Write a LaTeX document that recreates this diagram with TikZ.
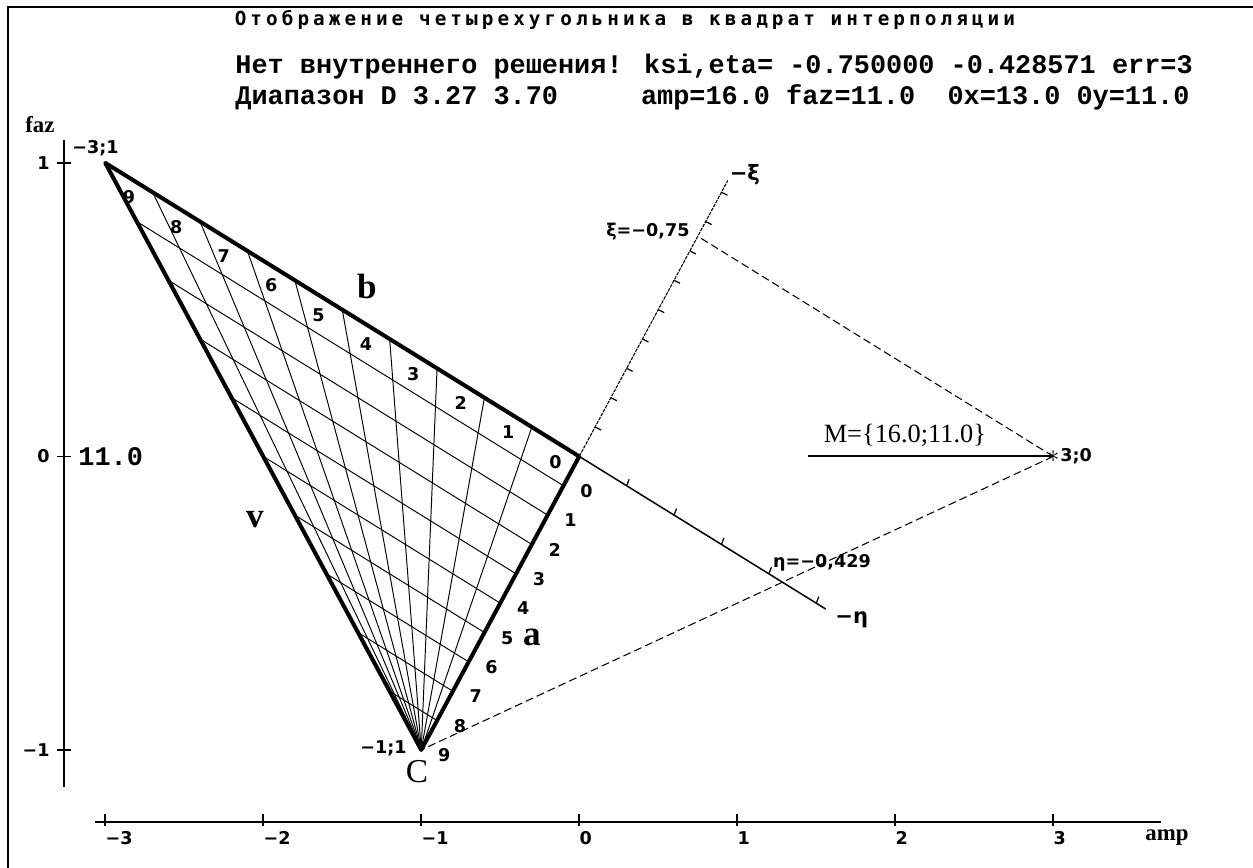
\documentclass[tikz,border=0pt]{standalone}
\usepackage{fontspec}
\setmainfont{Liberation Serif}
\newfontfamily\pixfont{DejaVu Sans}
\newfontfamily\titlefont[LetterSpace=21]{DejaVu Sans Mono}
\newfontfamily\headfont{Liberation Mono}
\usetikzlibrary{calc}

\begin{document}
\begin{tikzpicture}[x=3.16cm, y=5.87cm,
  edge/.style={line width=2.3pt, line join=round},
  grid/.style={line width=0.55pt},
  axis/.style={line width=1.1pt},
  proj/.style={line width=0.6pt, dash pattern=on 4.5pt off 2.3pt},
  lab/.style={font=\pixfont\bfseries\fontsize{10}{12}\selectfont, inner sep=0pt},
  head/.style={font=\headfont\bfseries\fontsize{15.3}{18}\selectfont, inner sep=0pt},
  side/.style={font=\bfseries\fontsize{20}{22}\selectfont, inner sep=0pt}]

% picture size and window frame
\useasboundingbox (-3.666,-1.402) rectangle (4.264,1.555);
\draw[line width=1.1pt] (-3.616,-1.402) -- (-3.616,1.532) -- (4.264,1.532);

% header lines
\node[font=\titlefont\bfseries\fontsize{11}{13}\selectfont, inner sep=0pt] (title) at (0.289,1.487) {Отображение четырехугольника в квадрат интерполяции};
\node[head, anchor=west] (msg) at (-2.178,1.327) {Нет внутреннего решения! ksi,eta= -0.750000 -0.428571 err=3};
\node[head, anchor=west] (range) at (-2.178,1.222) {Диапазон D 3.27 3.70};
\node[head, anchor=east] (vals) at (3.865,1.222) {amp=16.0 faz=11.0\ \ 0x=13.0 0y=11.0};

% amp axis
\coordinate (xa0) at (-3.065,-1.245);
\coordinate (xa1) at (3.681,-1.245);
\draw[axis] (xa0) -- (xa1);
\foreach \x/\s [count=\k] in {-3/−3,-2/−2,-1/−1,0/0,1/1,2/2,3/3} {
  \draw[axis] (\x,-1.22) -- (\x,-1.26);
  \node[lab, anchor=base west] (xl\k) at (\x,-1.322) {\s};
}
\node[font=\bfseries\fontsize{13}{15}\selectfont] (amp) at (3.72,-1.30) {amp};

% faz axis
\coordinate (ya0) at (-3.261,-1.126);
\coordinate (ya1) at (-3.261,1.078);
\draw[line width=0.9pt] (ya0) -- (ya1);
\foreach \y/\s [count=\k] in {1/1,0/0,-1/−1} {
  \draw[line width=0.9pt] (-3.306,\y) -- (-3.216,\y);
  \node[lab, anchor=east] (yl\k) at (-3.35,\y) {\s};
}
\node[font=\bfseries\fontsize{13}{15}\selectfont] (faz) at (-3.413,1.13) {faz};
\node[head, anchor=west] (zero) at (-3.172,0) {11.0};

% quadrilateral (two corners in C)
\coordinate (O) at (0,0);
\coordinate (P) at (-3,1);
\coordinate (C) at (-1,-1);

% interpolation grid
\foreach \k in {1,...,9} {
  \draw[grid] ($(O)!{\k/10}!(P)$) -- (C);
  \draw[grid] ($(O)!{\k/10}!(C)$) -- ($(P)!{\k/10}!(C)$);
}
\draw[edge] (P) -- (O) -- (C) -- cycle;

% numbers along b and a
\foreach \k in {0,...,9} {
  \node[lab] (bl\k) at ($(O)!{(\k+0.5)/10}!(P) + (0,-0.068)$) {\k};
  \node[lab] (al\k) at ($(O)!{(\k+0.5)/10}!(C) + (0.095,-0.068)$) {\k};
}

% corner and side names
\node[lab, anchor=west] (Pl) at ($(P)+(-0.21,0.05)$) {−3;1};
\node[lab, anchor=east] (Cl) at ($(C)+(-0.09,0.007)$) {−1;1};
\node[font=\fontsize{19}{21}\selectfont, inner sep=0pt] (Cn) at ($(C)+(-0.027,-0.075)$) {C};
\node[side] (a) at (-0.299,-0.618) {a};
\node[side] (b) at (-1.344,0.578) {b};
\node[side] (v) at (-2.053,-0.216) {v};

% ksi and eta axes
\coordinate (XiOne) at (1,1);
\coordinate (XiEnd) at (0.94,0.94);
\coordinate (EtaOne) at (3,-1);
\coordinate (EtaEnd) at (1.56,-0.52);
\draw[line width=0.6pt, dash pattern=on 2pt off 0.6pt] (O) -- (XiEnd);
\draw[line width=0.85pt] (O) -- (EtaEnd);
\foreach \k in {1,...,9}
  \draw[line width=0.7pt] ($(O)!{\k/10}!(XiOne)$) -- ++(0.12cm,-0.06cm);
\foreach \k in {1,...,5}
  \draw[line width=0.7pt] ($(O)!{\k/10}!(EtaOne)$) -- ++(0.05cm,0.13cm);
\node[lab, font=\pixfont\bfseries\fontsize{12}{14}\selectfont] (xin) at (1.048,0.959) {−ξ};
\node[lab, font=\pixfont\bfseries\fontsize{12}{14}\selectfont] (etan) at (1.725,-0.557) {−η};

% point M and its projections
\coordinate (M) at (3,0);
\coordinate (Xi) at (0.75,0.75);
\coordinate (Mline) at (1.447,0);
\draw[proj] (M) -- (Xi);
\draw[proj] (M) -- (C);
\draw[line width=1.1pt] (Mline) -- (M);
\node[font=\fontsize{15}{17}\selectfont, inner sep=0pt] (Mlab) at (2.061,0.073) {M=\{16.0;11.0\}};
\node[font=\bfseries\fontsize{14}{14}\selectfont, inner sep=0pt] (star) at (M) {$\ast$};
\node[lab, anchor=west] (Ml) at (3.042,0) {3;0};
\node[lab, anchor=east] (xiv) at (0.70,0.765) {ξ=−0,75};
\node[lab, anchor=west] (etav) at (1.225,-0.363) {η=−0,429};
\end{tikzpicture}
\end{document}
